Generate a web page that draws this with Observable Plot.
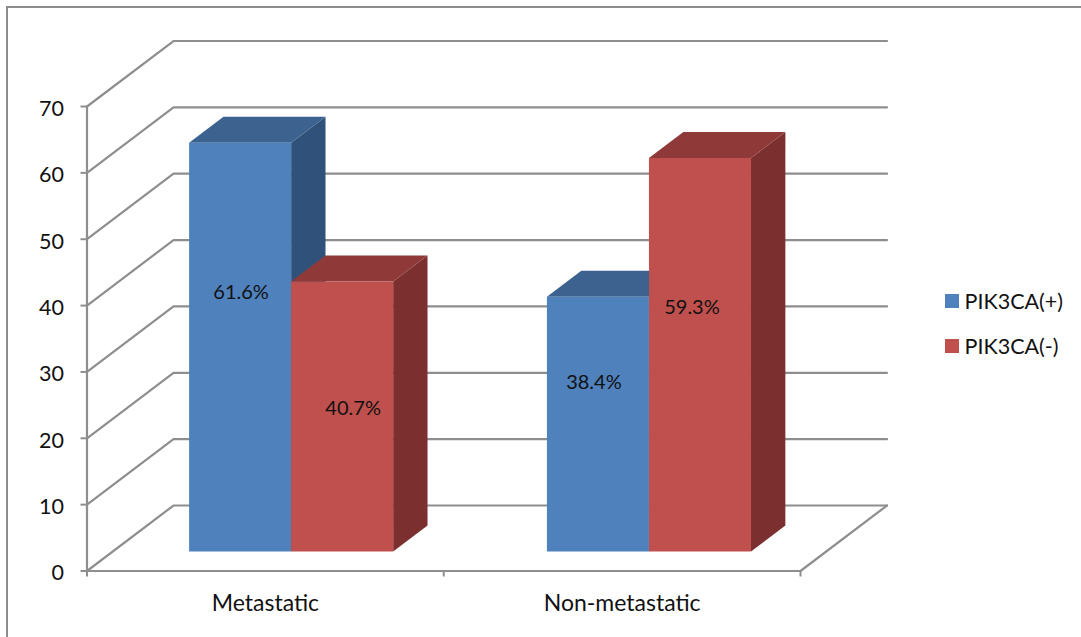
<!DOCTYPE html>
<html>
<head>
<meta charset="utf-8">
<script src="https://cdn.jsdelivr.net/npm/d3@7"></script>
<script src="https://cdn.jsdelivr.net/npm/@observablehq/plot@0.6"></script>
<style>
  html, body { margin: 0; padding: 0; background: #fff; overflow: hidden; }
  #stage { position: relative; width: 1081px; height: 637px; font-family: Lato, sans-serif; }
  #stage svg { position: absolute; left: 0; top: 0; background: transparent; }
  #edge { position: absolute; left: 6px; top: 6px; right: 0; bottom: 0; border-left: 2px solid #8c8c8c; border-top: 2px solid #8c8c8c; }
  #legend { position: absolute; left: 945px; top: 289px; font-size: 21.5px; color: #111; }
  #legend div { display: flex; align-items: center; height: 23px; margin-bottom: 22px; }
  #legend i { display: block; width: 14px; height: 14px; margin-right: 5.5px; }
</style>
</head>
<body>
<div id="stage"><div id="edge"></div><div id="legend"></div></div>
<script>
// Chart values
const categories = ["Metastatic", "Non-metastatic"];
const seriesNames = ["PIK3CA(+)", "PIK3CA(-)"];
const positive = [61.6, 38.4];
const negative = [40.7, 59.3];
const yTicks = [0, 10, 20, 30, 40, 50, 60, 70];

// Where each value label sits on its bar, as a height on the value axis
const positiveLabelLevel = [39, 25.5];
const negativeLabelLevel = [21.5, 36.8];
const positiveLabelShift = [1, -4];
const negativeLabelShift = [11, -8];

// Colours of the three visible faces of a bar
const palette = [
  {front: "#4f81bd", top: "#3c628f", side: "#30527a"},
  {front: "#c0504d", top: "#8f3a38", side: "#7b2f2e"}
];
const gridColor = "#8e8e8e";

// Oblique projection: depth d (0 = front, 1 = back wall) shifts a point right and up
const depthX = 0.2425, depthY = 9.87;
const project = (u, v, d) => ({x: u + d * depthX, y: v + d * depthY});

// Bar geometry in category units
const centres = [0.5, 1.503];
const barWidth = 0.286;
const nearDepth = 0.2977, farDepth = 0.695;

function barFaces(u0, u1, value, colors) {
  const v0 = 0;
  return [
    {fill: colors.side, pts: [project(u1, v0, nearDepth), project(u1, v0, farDepth), project(u1, value, farDepth), project(u1, value, nearDepth)]},
    {fill: colors.top, pts: [project(u0, value, nearDepth), project(u0, value, farDepth), project(u1, value, farDepth), project(u1, value, nearDepth)]},
    {fill: colors.front, pts: [project(u0, v0, nearDepth), project(u1, v0, nearDepth), project(u1, value, nearDepth), project(u0, value, nearDepth)]}
  ];
}

// Faces, drawn back to front within each category
const faces = [];
const labels = [];
categories.forEach((name, i) => {
  const c = centres[i];
  faces.push(...barFaces(c - barWidth, c, positive[i], palette[0]));
  faces.push(...barFaces(c, c + barWidth, negative[i], palette[1]));
  labels.push({...project(c - barWidth / 2, positiveLabelLevel[i], nearDepth), text: positive[i].toFixed(1) + "%", dx: positiveLabelShift[i]});
  labels.push({...project(c + barWidth / 2, negativeLabelLevel[i], nearDepth), text: negative[i].toFixed(1) + "%", dx: negativeLabelShift[i]});
});

// Gridlines run along the side wall, then across the back wall
const gridLines = yTicks.map(v => [project(0, v, 0), project(0, v, 1), project(2, v, 1)]);
const floorEdges = [
  [project(0, 0, 0), project(2, 0, 0), project(2, 0, 1)],
  [project(0, 0, 0), project(0, 70, 0)]
];

const lineOpts = {x: "x", y: "y", stroke: gridColor, strokeWidth: 2.2};

const chart = Plot.plot({
  width: 1081,
  height: 637,
  marginTop: 106, marginRight: 281, marginBottom: 66.5, marginLeft: 86.5,
  style: {background: "transparent", fontFamily: "Lato, sans-serif", overflow: "visible"},
  x: {domain: [0, 2], label: null},
  y: {domain: [0, 70], label: null},
  marks: [
    ...gridLines.map(pts => Plot.line(pts, lineOpts)),
    ...floorEdges.map(pts => Plot.line(pts, lineOpts)),
    Plot.axisY({
      ticks: yTicks, tickSize: 6, label: null,
      stroke: gridColor, strokeWidth: 2, strokeOpacity: 1, tickFormat: () => ""
    }),
    Plot.axisY({
      ticks: yTicks, tickSize: 0, tickPadding: 23, dy: 2.5, label: null,
      fill: "#111", fontSize: 21.5, tickFormat: "d"
    }),
    Plot.axisX({
      ticks: [0, 1, 2], tickSize: 6, label: null,
      stroke: gridColor, strokeWidth: 2, strokeOpacity: 1, tickFormat: () => ""
    }),
    Plot.axisX({
      ticks: [0.5, 1.5], tickSize: 0, tickPadding: 24, label: null,
      fill: "#111", fontSize: 23, tickFormat: d => categories[Math.floor(d)]
    }),
    ...faces.map(f => Plot.line(f.pts, {x: "x", y: "y", fill: f.fill, stroke: null, curve: "linear-closed"})),
    ...labels.map(l => Plot.text([l], {x: "x", y: "y", text: "text", dx: l.dx, fill: "#111", fontSize: 20}))
  ]
});
document.getElementById("stage").appendChild(chart);

// Series key to the right of the plot
const legend = d3.select("#legend");
seriesNames.forEach((name, i) => {
  const row = legend.append("div");
  row.append("i").style("background", palette[i].front);
  row.append("span").text(name);
});
</script>
</body>
</html>
